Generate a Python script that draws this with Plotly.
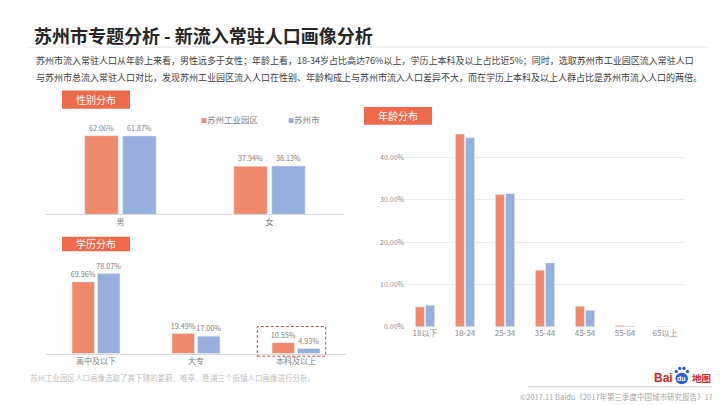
import plotly.graph_objects as go

# ---------------- data ----------------
series_names = ["苏州工业园区", "苏州市"]

gender_cats = ["男", "女"]
gender_park = [62.06, 37.94]
gender_city = [61.87, 38.13]

edu_cats = ["高中及以下", "大专", "本科及以上"]
edu_park = [69.96, 19.49, 10.55]
edu_city = [78.07, 17.00, 4.93]

age_cats = ["18以下", "18-24", "25-34", "35-44", "45-54", "55-64", "65以上"]
age_park = [4.75, 45.6, 31.3, 13.4, 4.85, 0.3, 0.05]
age_city = [5.1, 44.7, 31.5, 15.1, 3.9, 0.2, 0.04]
age_ticks = [0, 10, 20, 30, 40, 50]

title_text = "苏州市专题分析 - 新流入常驻人口画像分析"
body_line1 = "苏州市流入常驻人口从年龄上来看，男性远多于女性；年龄上看，18-34岁占比高达76%以上，学历上本科及以上占比近5%；同时，选取苏州市工业园区流入常驻人口"
body_line2 = "与苏州市总流入常驻人口对比，发现苏州工业园区流入人口在性别、年龄构成上与苏州市流入人口差异不大，而在学历上本科及以上人群占比是苏州市流入人口的两倍。"
footnote = "苏州工业园区人口画像选取了其下辖的娄葑、唯亭、胜浦三个街镇人口画像进行分析。"
source = "©2017.11 Baidu《2017年第三季度中国城市研究报告》17"

# ---------------- style ----------------
W, H = 720, 405
ORANGE = "#F0886C"
BLUE = "#97AFDF"
HEAD = "#EE6A4B"
LABEL = "#7f7f7f"
FONT = "Noto Sans CJK SC"
BAIDU_RED = "#D8281E"
BAIDU_BLUE = "#2B5DD6"


def xp(x):
    return x / W


def yp(y):
    return 1 - y / H


fig = go.Figure()

lbl = dict(texttemplate="%{y:.2f}%", textposition="outside", constraintext="none",
           textfont=dict(color=LABEL, size=7.2, family=FONT), cliponaxis=False)

fig.add_trace(go.Bar(x=gender_cats, y=gender_park, name=series_names[0], marker_color=ORANGE,
                     xaxis="x", yaxis="y", **lbl))
fig.add_trace(go.Bar(x=gender_cats, y=gender_city, name=series_names[1], marker_color=BLUE,
                     xaxis="x", yaxis="y", **lbl))
fig.add_trace(go.Bar(x=edu_cats, y=edu_park, name=series_names[0], marker_color=ORANGE,
                     xaxis="x2", yaxis="y2", **lbl))
fig.add_trace(go.Bar(x=edu_cats, y=edu_city, name=series_names[1], marker_color=BLUE,
                     xaxis="x2", yaxis="y2", **lbl))
fig.add_trace(go.Bar(x=age_cats, y=age_park, name=series_names[0], marker_color=ORANGE,
                     xaxis="x3", yaxis="y3"))
fig.add_trace(go.Bar(x=age_cats, y=age_city, name=series_names[1], marker_color=BLUE,
                     xaxis="x3", yaxis="y3"))

xcommon = dict(showline=True, linecolor="#d9d9d9", linewidth=1, showgrid=False, ticks="",
               tickfont=dict(size=8, color=LABEL, family=FONT), fixedrange=True)
ycommon_hidden = dict(showticklabels=False, showgrid=False, zeroline=False, showline=False,
                      fixedrange=True)

fig.update_layout(
    width=W, height=H, margin=dict(l=0, r=0, t=0, b=0),
    paper_bgcolor="white", plot_bgcolor="rgba(0,0,0,0)",
    showlegend=False, barmode="group", bargap=0.49, bargroupgap=0.12,
    font=dict(family=FONT, color="#404040"),
    xaxis=dict(domain=[xp(38), xp(336)], anchor="y", **xcommon),
    yaxis=dict(domain=[yp(208.3), yp(208.3 - 70 * 1.278)], range=[0, 70], anchor="x",
               **ycommon_hidden),
    xaxis2=dict(domain=[xp(38), xp(338)], anchor="y2", **xcommon),
    yaxis2=dict(domain=[yp(349), yp(349 - 85 * 1.034)], range=[0, 85], anchor="x2",
                **ycommon_hidden),
    xaxis3=dict(domain=[xp(397), xp(677)], anchor="y3", showline=False, showgrid=False,
                ticks="", tickfont=dict(size=8, color="#8c8c8c", family=FONT), fixedrange=True),
    yaxis3=dict(domain=[yp(322), yp(322 - 50 * 4.27)], range=[0, 50], anchor="x3",
                tickvals=age_ticks,
                ticktext=[f"{v:.2f}%" if v < 50 else "" for v in age_ticks],
                showgrid=True, gridcolor="#ececec", gridwidth=1, zeroline=False,
                showline=False, ticks="", tickfont=dict(size=7, color="#8c8c8c", family=FONT),
                fixedrange=True),
)

shapes = []
annotations = []

# title
annotations.append(dict(x=xp(24), y=yp(27), xref="paper", yref="paper", xanchor="left",
                        yanchor="middle", showarrow=False, text=f"<b>{title_text}</b>",
                        font=dict(size=18, color="#262626", family=FONT)))
shapes.append(dict(type="line", xref="paper", yref="paper", x0=xp(20), x1=xp(700),
                   y0=yp(39.5), y1=yp(39.5), line=dict(color="#e6e6e6", width=1)))
for yy, t in [(53, body_line1), (70, body_line2)]:
    annotations.append(dict(x=xp(26), y=yp(yy), xref="paper", yref="paper", xanchor="left",
                            yanchor="middle", showarrow=False, text=t,
                            font=dict(size=9, color="#404040", family=FONT)))

# section headers
for (x0, x1, y0, y1, t) in [(54, 122, 83.3, 101.7, "性别分布"), (54, 122, 231, 245.7, "学历分布"),
                            (356, 424, 100, 118, "年龄分布")]:
    shapes.append(dict(type="rect", xref="paper", yref="paper", x0=xp(x0), x1=xp(x1),
                       y0=yp(y1), y1=yp(y0), fillcolor=HEAD, line=dict(width=0), layer="above"))
    annotations.append(dict(x=xp((x0 + x1) / 2), y=yp((y0 + y1) / 2), xref="paper", yref="paper",
                            xanchor="center", yanchor="middle", showarrow=False, text=t,
                            font=dict(size=10, color="white", family=FONT)))

# legend (gender chart)
for (x, name, col) in [(191, series_names[0], ORANGE), (278, series_names[1], BLUE)]:
    annotations.append(dict(x=xp(x), y=yp(112), xref="paper", yref="paper", xanchor="left",
                            yanchor="middle", showarrow=False,
                            text=f"<span style='color:{col};font-size:6px'>■</span>{name}",
                            font=dict(size=8.5, color=LABEL, family=FONT)))

# dashed highlight box
shapes.append(dict(type="rect", xref="paper", yref="paper", x0=xp(249.3), x1=xp(317.7),
                   y0=yp(351.7), y1=yp(321.7),
                   line=dict(color="#C0504D", width=1, dash="3px,2px"),
                   fillcolor="rgba(0,0,0,0)"))

# footnote
annotations.append(dict(x=xp(20), y=yp(373), xref="paper", yref="paper", xanchor="left",
                        yanchor="middle", showarrow=False, text=footnote,
                        font=dict(size=7.5, color="#bfbfbf", family=FONT)))

# footer
shapes.append(dict(type="line", xref="paper", yref="paper", x0=xp(520), x1=xp(708),
                   y0=yp(382.5), y1=yp(382.5), line=dict(color="#d0d0d0", width=1)))
annotations.append(dict(x=xp(707), y=yp(392), xref="paper", yref="paper", xanchor="right",
                        yanchor="middle", showarrow=False, text=source,
                        font=dict(size=7.5, color="#a6a6a6", family=FONT)))

# Baidu map logo
annotations.append(dict(x=xp(667), y=yp(373.5), xref="paper", yref="paper", xanchor="right",
                        yanchor="middle", showarrow=False, text="<b>Bai</b>",
                        font=dict(size=12, color=BAIDU_RED, family="Liberation Sans")))
shapes.append(dict(type="circle", xref="paper", yref="paper", x0=xp(667.5), x1=xp(680),
                   y0=yp(380), y1=yp(368.5), fillcolor=BAIDU_BLUE, line=dict(width=0)))
for (cx, cy) in [(668.3, 367), (671.8, 364), (676, 364), (679.5, 367)]:
    shapes.append(dict(type="circle", xref="paper", yref="paper", x0=xp(cx - 1.7), x1=xp(cx + 1.7),
                       y0=yp(cy + 1.7), y1=yp(cy - 1.7), fillcolor=BAIDU_BLUE, line=dict(width=0)))
annotations.append(dict(x=xp(673.8), y=yp(374.5), xref="paper", yref="paper", xanchor="center",
                        yanchor="middle", showarrow=False, text="<b>du</b>",
                        font=dict(size=7, color="white", family="Liberation Sans")))
annotations.append(dict(x=xp(681.5), y=yp(374), xref="paper", yref="paper", xanchor="left",
                        yanchor="middle", showarrow=False, text="<b>地图</b>",
                        font=dict(size=9.5, color=BAIDU_RED, family=FONT)))

fig.update_layout(shapes=shapes, annotations=annotations)

fig.write_html("out.html")
